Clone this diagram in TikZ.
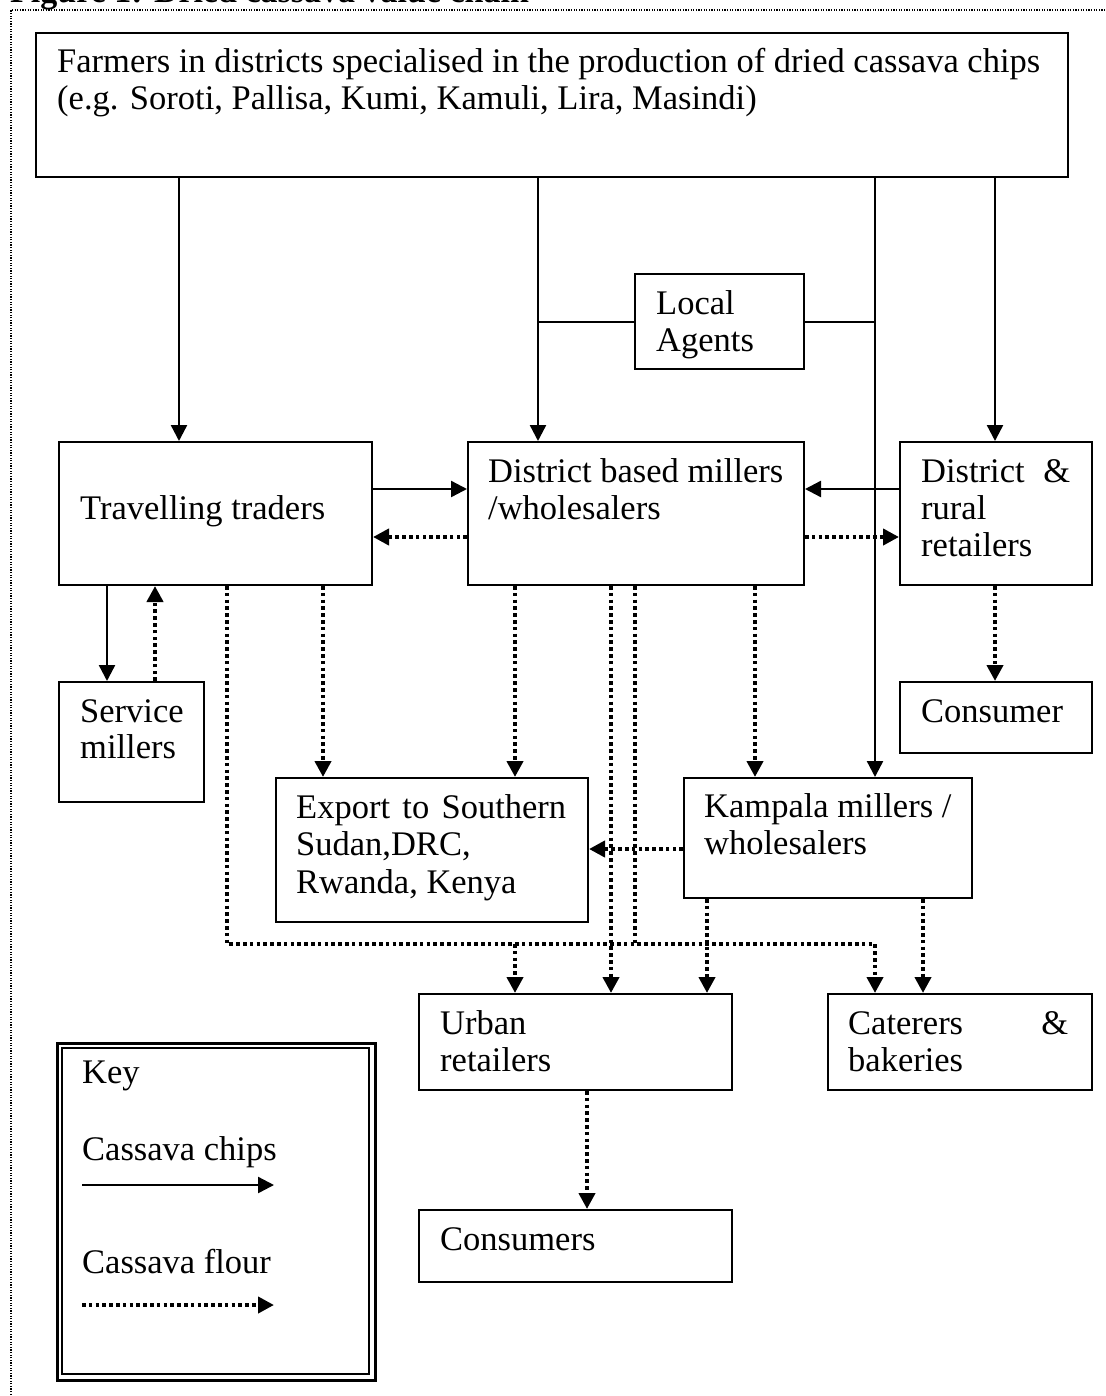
\documentclass[tikz,border=0pt]{standalone}
\usepackage{fontspec}
\setmainfont{Liberation Serif}
\usetikzlibrary{arrows.meta}
\begin{document}
\begin{tikzpicture}[x=1pt,y=-1pt,
  box/.style={draw, line width=2pt, inner sep=0pt, anchor=north west},
  txt/.style={anchor=base west, inner sep=0pt, font=\fontsize{34.5pt}{37pt}\selectfont},
  chips/.style={line width=2.4pt, -{Triangle[length=16pt,width=16pt]}},
  flour/.style={line width=4pt, dash pattern=on 3.6pt off 3.2pt, -{Triangle[length=16pt,width=16pt]}},
  flourline/.style={line width=4pt, dash pattern=on 3.6pt off 3.2pt},
  plain/.style={line width=2pt},
  frame/.style={line width=1.4pt, dash pattern=on 1.3pt off 1.3pt}]
\useasboundingbox (0,0) rectangle (1105,1396);
\fill[white] (0,0) rectangle (1105,1396);
% outer dotted frame and cut title
\draw[frame] (11,1400) -- (11,10) -- (1110,10);
\node[anchor=base west, inner sep=0pt, font=\fontsize{34pt}{37pt}\selectfont\bfseries] (title) at (10,3) {Figure 1: Dried cassava value chain};
% boxes
\node[box, minimum width=1032pt, minimum height=144pt] (farm) at (35,32) {};
\node[box, minimum width=169pt, minimum height=95pt] (agents) at (634,273) {};
\node[box, minimum width=313pt, minimum height=143pt] (trav) at (58,441) {};
\node[box, minimum width=336pt, minimum height=143pt] (dmill) at (467,441) {};
\node[box, minimum width=192pt, minimum height=143pt] (drr) at (899,441) {};
\node[box, minimum width=145pt, minimum height=120pt] (serv) at (58,681) {};
\node[box, minimum width=192pt, minimum height=71pt] (consa) at (899,681) {};
\node[box, minimum width=312pt, minimum height=144pt] (export) at (275,777) {};
\node[box, minimum width=288pt, minimum height=120pt] (kamp) at (683,777) {};
\node[box, minimum width=313pt, minimum height=96pt] (urban) at (418,993) {};
\node[box, minimum width=264pt, minimum height=96pt] (cater) at (827,993) {};
\node[box, minimum width=313pt, minimum height=72pt] (consb) at (418,1209) {};
\node[draw, line width=3.2pt, inner sep=0pt, anchor=north west, minimum width=318pt, minimum height=337pt] (keyout) at (56,1042) {};
\node[draw, line width=1.6pt, inner sep=0pt, anchor=north west, minimum width=307pt, minimum height=326pt] (keyin) at (61,1047) {};
% texts
\node[txt] (t1) at (57,73) {Farmers in districts specialised in the production of dried cassava chips};
\node[txt] (t2) at (57,110) {(e.g. Soroti, Pallisa, Kumi, Kamuli, Lira, Masindi)};
\node[txt] (t3) at (656,314) {Local};
\node[txt] (t4) at (656,351) {Agents};
\node[txt] (t5) at (80,519) {Travelling traders};
\node[txt] (t6) at (488,482) {District based millers};
\node[txt] (t7) at (488,519) {/wholesalers};
\node[txt] (t8) at (921,482) {\makebox[149pt][l]{District\hfill\&}};
\node[txt] (t9) at (921,519) {rural};
\node[txt] (t10) at (921,556) {retailers};
\node[txt] (t11) at (80,722) {Service};
\node[txt] (t12) at (80,758) {millers};
\node[txt] (t13) at (921,722) {Consumer};
\node[txt] (t14) at (296,818) {\makebox[270pt][s]{Export to Southern}};
\node[txt] (t15) at (296,855) {Sudan,DRC,};
\node[txt] (t16) at (296,893) {Rwanda, Kenya};
\node[txt] (t17) at (704,817) {Kampala millers /};
\node[txt] (t18) at (704,854) {wholesalers};
\node[txt] (t19) at (440,1034) {Urban};
\node[txt] (t20) at (440,1071) {retailers};
\node[txt] (t21) at (848,1034) {\makebox[220pt][l]{Caterers\hfill\&}};
\node[txt] (t22) at (848,1071) {bakeries};
\node[txt] (t23) at (440,1250) {Consumers};
\node[txt] (t24) at (82,1083) {Key};
\node[txt] (t25) at (82,1160) {Cassava chips};
\node[txt] (t26) at (82,1273) {Cassava flour};
% connectors from farmers
\draw[chips] (179,0 |- farm.south) -- (179,0 |- trav.north);
\draw[chips] (538,0 |- farm.south) -- (538,0 |- dmill.north);
\draw[chips] (875,0 |- farm.south) -- (875,0 |- kamp.north);
\draw[chips] (995,0 |- farm.south) -- (995,0 |- drr.north);
\draw[plain] (agents.west) -- (538,0 |- agents.west);
\draw[plain] (agents.east) -- (875,0 |- agents.east);
% middle row
\draw[chips] (trav.east |- 0,489) -- (dmill.west |- 0,489);
\draw[flour] (dmill.west |- 0,537) -- (trav.east |- 0,537);
\draw[chips] (drr.west |- 0,489) -- (dmill.east |- 0,489);
\draw[flour] (dmill.east |- 0,537) -- (drr.west |- 0,537);
% travelling traders
\draw[chips] (107,0 |- trav.south) -- (107,0 |- serv.north);
\draw[flour] (155,0 |- serv.north) -- (155,0 |- trav.south);
\draw[flour] (323,0 |- trav.south) -- (323,0 |- export.north);
\coordinate (bendL) at (227,944);
\coordinate (bendR) at (875,944);
\coordinate (joinA) at (635,944);
\coordinate (joinB) at (515,944);
\draw[flour] (227,0 |- trav.south) -- (bendL) -- (bendR) -- (875,0 |- cater.north);
% district millers
\draw[flour] (515,0 |- dmill.south) -- (515,0 |- export.north);
\draw[flour] (611,0 |- dmill.south) -- (611,0 |- urban.north);
\draw[flourline] (635,0 |- dmill.south) -- (joinA);
\draw[flour] (joinB) -- (515,0 |- urban.north);
\draw[flour] (755,0 |- dmill.south) -- (755,0 |- kamp.north);
% kampala
\draw[flour] (kamp.west |- 0,849) -- (export.east |- 0,849);
\draw[flour] (707,0 |- kamp.south) -- (707,0 |- urban.north);
\draw[flour] (923,0 |- kamp.south) -- (923,0 |- cater.north);
% retailers
\draw[flour] (995,0 |- drr.south) -- (995,0 |- consa.north);
\draw[flour] (587,0 |- urban.south) -- (587,0 |- consb.north);
% key arrows
\coordinate (ka) at (82,1185);
\coordinate (kb) at (274,1185);
\coordinate (kc) at (82,1305);
\coordinate (kd) at (274,1305);
\draw[chips] (ka) -- (kb);
\draw[flour] (kc) -- (kd);
\end{tikzpicture}
\end{document}
